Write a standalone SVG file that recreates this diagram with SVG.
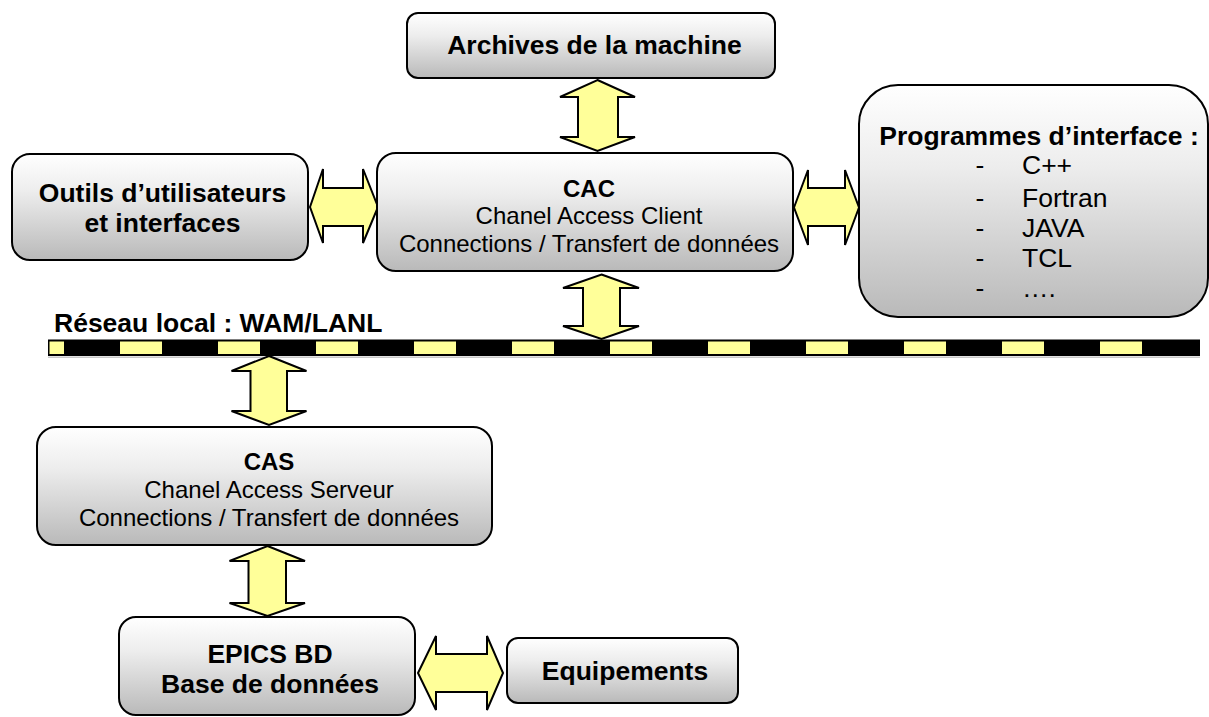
<svg xmlns="http://www.w3.org/2000/svg" width="1209" height="717" viewBox="0 0 1209 717">
<defs>
<linearGradient id="g" x1="0" y1="0" x2="0" y2="1">
<stop offset="0" stop-color="#ffffff"/>
<stop offset="0.35" stop-color="#ededed"/>
<stop offset="1" stop-color="#b9b9b9"/>
</linearGradient>
</defs>
<style>
.box{fill:url(#g);stroke:#000;stroke-width:2}
.arr{fill:#ffff99;stroke:#000;stroke-width:2;stroke-linejoin:miter}
.b{font-family:"Liberation Sans",Arial,sans-serif;font-weight:bold;font-size:26.5px;fill:#000}
.bs{font-family:"Liberation Sans",Arial,sans-serif;font-weight:bold;font-size:24px;fill:#000}
.r{font-family:"Liberation Sans",Arial,sans-serif;font-size:24px;fill:#000}
.ri{font-family:"Liberation Sans",Arial,sans-serif;font-size:26.5px;fill:#000}
.c{text-anchor:middle}
.y{fill:#ffff99}
</style>
<rect width="1209" height="717" fill="#fff"/>

<g id="network">
<line x1="48" y1="357.2" x2="1200" y2="357.2" stroke="#c8c8c8" stroke-width="1.5"/>
<rect x="48" y="339.5" width="1152" height="16.5" fill="#000"/>
<rect class="y" x="49.5" y="341.5" width="14.5" height="12.5"/>
<rect class="y" x="120" y="341.5" width="42" height="12.5"/>
<rect class="y" x="218" y="341.5" width="42" height="12.5"/>
<rect class="y" x="316" y="341.5" width="42" height="12.5"/>
<rect class="y" x="414" y="341.5" width="42" height="12.5"/>
<rect class="y" x="512" y="341.5" width="42" height="12.5"/>
<rect class="y" x="610" y="341.5" width="42" height="12.5"/>
<rect class="y" x="708" y="341.5" width="42" height="12.5"/>
<rect class="y" x="806" y="341.5" width="42" height="12.5"/>
<rect class="y" x="904" y="341.5" width="42" height="12.5"/>
<rect class="y" x="1002" y="341.5" width="42" height="12.5"/>
<rect class="y" x="1100" y="341.5" width="42" height="12.5"/>
<text class="b" x="54" y="331.5">Réseau local : WAM/LANL</text>
</g>

<g id="connectors">
<polygon class="arr" points="597.5,80 635,97 618,97 618,137 635,137 597.5,151 560,137 578,137 578,97 560,97"/>
<polygon class="arr" points="601.5,274.5 639,288 620,288 620,326 639,326 601.5,339 563,326 583,326 583,288 563,288"/>
<polygon class="arr" points="269,356 306.5,371 287,371 287,411 306.5,411 269,425 231.5,411 250.5,411 250.5,371 231.5,371"/>
<polygon class="arr" points="267.5,546 305,561 286,561 286,603 305,603 267.5,616 229.5,603 248.5,603 248.5,561 229.5,561"/>
<polygon class="arr" points="310,207 323,169 323,188 363,188 363,169 378,207 363,243 363,226 323,226 323,243"/>
<polygon class="arr" points="794,207.5 808,170 808,188 845,188 845,170 859,207.5 845,245 845,226 808,226 808,245"/>
<polygon class="arr" points="418,673 436,636 436,654 487,654 487,636 503,673 487,710 487,692 436,692 436,710"/>
</g>

<g id="archives">
<rect class="box" x="407" y="13" width="368" height="65" rx="11"/>
<text class="b c" x="594.5" y="54">Archives de la machine</text>
</g>

<g id="outils">
<rect class="box" x="12" y="154" width="296" height="106" rx="18"/>
<text class="b c" x="162.5" y="202">Outils d’utilisateurs</text>
<text class="b c" x="162.5" y="232">et interfaces</text>
</g>

<g id="cac">
<rect class="box" x="377" y="153" width="416" height="118" rx="19"/>
<text class="bs c" x="589" y="197">CAC</text>
<text class="r c" x="589" y="224">Chanel Access Client</text>
<text class="r c" x="589" y="252">Connections / Transfert de données</text>
</g>

<g id="programmes">
<rect class="box" x="859" y="85" width="349" height="232" rx="39"/>
<text class="b c" x="1039" y="145">Programmes d’interface :</text>
<text class="ri c" x="980" y="174">-</text>
<text class="ri" x="1022" y="174">C++</text>
<text class="ri c" x="980" y="206.5">-</text>
<text class="ri" x="1022" y="206.5">Fortran</text>
<text class="ri c" x="980" y="237">-</text>
<text class="ri" x="1022" y="237">JAVA</text>
<text class="ri c" x="980" y="267">-</text>
<text class="ri" x="1022" y="267">TCL</text>
<text class="ri c" x="980" y="297">-</text>
<text class="ri" x="1022" y="297">….</text>
</g>

<g id="cas">
<rect class="box" x="37" y="427" width="455" height="118" rx="19"/>
<text class="bs c" x="269" y="470">CAS</text>
<text class="r c" x="269" y="498">Chanel Access Serveur</text>
<text class="r c" x="269" y="526">Connections / Transfert de données</text>
</g>

<g id="epics">
<rect class="box" x="119" y="617" width="296" height="98" rx="17"/>
<text class="b c" x="270" y="663">EPICS BD</text>
<text class="b c" x="270" y="693">Base de données</text>
</g>

<g id="equipements">
<rect class="box" x="507" y="638" width="231" height="65" rx="11"/>
<text class="b c" x="625" y="680">Equipements</text>
</g>
</svg>
